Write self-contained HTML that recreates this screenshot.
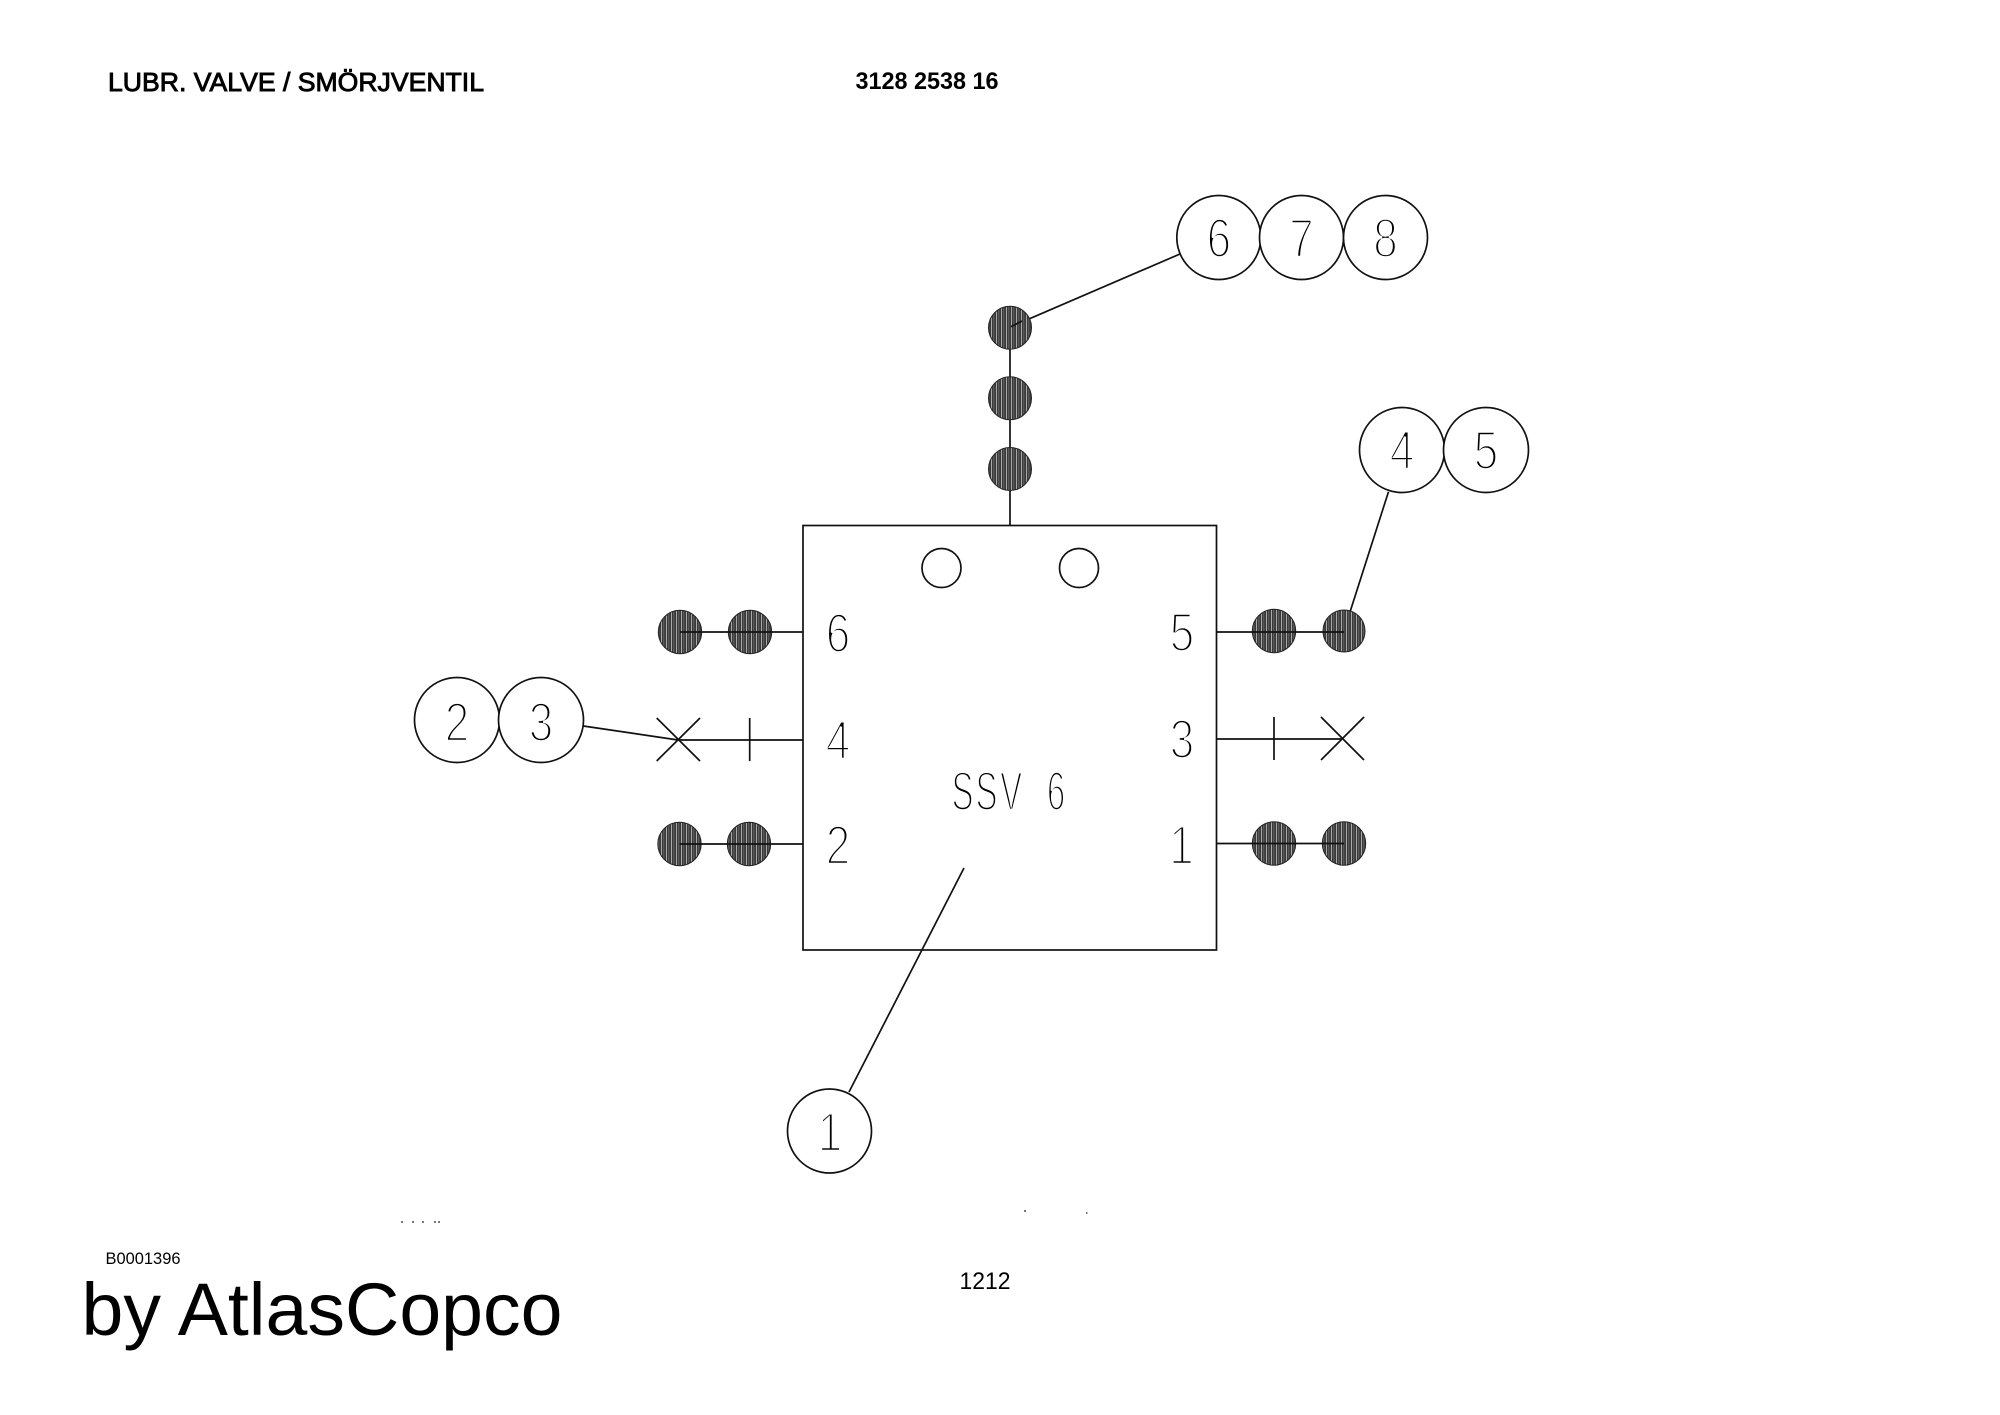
<!DOCTYPE html>
<html>
<head>
<meta charset="utf-8">
<title>Lubr. valve</title>
<style>
html,body{margin:0;padding:0;background:#fff;}
svg{display:block;}
text{font-family:"Liberation Sans",sans-serif;fill:#000;}
.n{font-size:55px;text-anchor:middle;stroke:#fff;stroke-width:2.6px;}
.s{font-size:55px;stroke:#fff;stroke-width:2.6px;}
.l{stroke:#111;stroke-width:1.7;fill:none;}
.c{stroke:#111;stroke-width:1.7;fill:#fff;}
.d{fill:url(#h);stroke:#222;stroke-width:1;}
</style>
</head>
<body>
<svg width="2000" height="1415" viewBox="0 0 2000 1415" xmlns="http://www.w3.org/2000/svg">
<defs>
<pattern id="h" width="5" height="7" patternUnits="userSpaceOnUse">
<rect width="5" height="7" fill="#3a3a3a"/>
<rect x="1" width="1" height="7" fill="#aaa"/>
<rect x="3.5" width="0.7" height="7" fill="#777"/>
</pattern>
</defs>
<rect width="2000" height="1415" fill="#fff"/>

<text x="108" y="91" font-size="26" textLength="376" lengthAdjust="spacingAndGlyphs" stroke="#000" stroke-width="0.9">LUBR. VALVE / SMÖRJVENTIL</text>
<text x="855.5" y="89" font-size="24" font-weight="700" textLength="143" lengthAdjust="spacingAndGlyphs">3128 2538 16</text>

<!-- box -->
<rect class="l" x="803" y="525.5" width="413.5" height="424.5"/>
<circle class="l" cx="941.5" cy="568" r="19.5"/>
<circle class="l" cx="1079" cy="568" r="19.5"/>

<!-- connectors -->
<path class="l" d="M1010 328V526"/>
<path class="l" d="M1180 254L1011 326.7"/>
<path class="l" d="M583.3 726L678 740"/>
<path class="l" d="M678 740H803"/>
<path class="l" d="M1216 739H1342"/>
<path class="l" d="M656.7 718L700 761M700 718L656.7 761M749.7 718V761"/>
<path class="l" d="M1321 717L1364 760M1364 717L1321 760M1274 717V760"/>
<path class="l" d="M1388.5 491.7L1350 612"/>
<path class="l" d="M964 868L849 1092"/>

<!-- hatched dots -->
<g>
<ellipse class="d" cx="1010" cy="327.7" rx="21.5" ry="21.5"/>
<ellipse class="d" cx="1010" cy="398.3" rx="21.5" ry="21.5"/>
<ellipse class="d" cx="1010" cy="469" rx="21.5" ry="21.5"/>
<circle class="d" cx="680" cy="632" r="21.7"/>
<circle class="d" cx="750" cy="632" r="21.7"/>
<circle class="d" cx="679.5" cy="844" r="21.7"/>
<circle class="d" cx="749" cy="844" r="21.7"/>
<circle class="d" cx="1274" cy="631" r="21.7"/>
<circle class="d" cx="1344" cy="631" r="21"/>
<circle class="d" cx="1274" cy="843.5" r="21.7"/>
<circle class="d" cx="1344" cy="843.5" r="21.7"/>
</g>
<path class="l" d="M680 632H803M679.5 844H803M1216 632H1344M1216 843.5H1344"/>
<path class="l" d="M1022 321L1011 326.7"/>

<!-- balloons -->
<circle class="c" cx="1218.8" cy="237.5" r="42"/>
<circle class="c" cx="1301.5" cy="237.5" r="42"/>
<circle class="c" cx="1385.5" cy="237.5" r="42"/>
<circle class="c" cx="1402" cy="450" r="42.5"/>
<circle class="c" cx="1486" cy="450" r="42.5"/>
<circle class="c" cx="457" cy="720" r="42.5"/>
<circle class="c" cx="541" cy="720" r="42.5"/>
<circle class="c" cx="829.5" cy="1131" r="42"/>

<!-- balloon labels -->
<text class="n" transform="translate(1218.8,257) scale(.8,1)">6</text>
<text class="n" transform="translate(1301.5,257) scale(.8,1)">7</text>
<text class="n" transform="translate(1385.5,257) scale(.8,1)">8</text>
<text class="n" transform="translate(1402,469) scale(.8,1)">4</text>
<text class="n" transform="translate(1486,469) scale(.8,1)">5</text>
<text class="n" transform="translate(457,741) scale(.8,1)">2</text>
<text class="n" transform="translate(541,741) scale(.8,1)">3</text>
<text class="n" transform="translate(830,1151) scale(.8,1)">1</text>

<!-- box labels -->
<text class="n" transform="translate(838,652) scale(.8,1)">6</text>
<text class="n" transform="translate(838,759) scale(.8,1)">4</text>
<text class="n" transform="translate(838,864) scale(.8,1)">2</text>
<text class="n" transform="translate(1182,651) scale(.8,1)">5</text>
<text class="n" transform="translate(1182,758) scale(.8,1)">3</text>
<text class="n" transform="translate(1181.5,864) scale(.8,1)">1</text>
<text class="s" transform="translate(951.5,810) scale(.6,1)" x="0 40 81 150 159">SSV 6</text>

<!-- footer -->
<text x="105.5" y="1264" font-size="16.3" textLength="75" lengthAdjust="spacingAndGlyphs">B0001396</text>
<text x="81.5" y="1335" font-size="74" textLength="481" lengthAdjust="spacingAndGlyphs">by AtlasCopco</text>
<text x="959.5" y="1289" font-size="24" textLength="51" lengthAdjust="spacingAndGlyphs">1212</text>

<!-- specks -->
<g fill="#777">
<rect x="401" y="1221" width="2" height="2"/>
<rect x="412" y="1221" width="2" height="2"/>
<rect x="422" y="1221" width="2" height="2"/>
<rect x="434" y="1221" width="2" height="2"/>
<rect x="438" y="1221" width="2" height="2"/>
<rect x="1024" y="1210" width="2" height="2"/>
<rect x="1086" y="1212" width="1.5" height="2"/>
</g>
</svg>
</body>
</html>
